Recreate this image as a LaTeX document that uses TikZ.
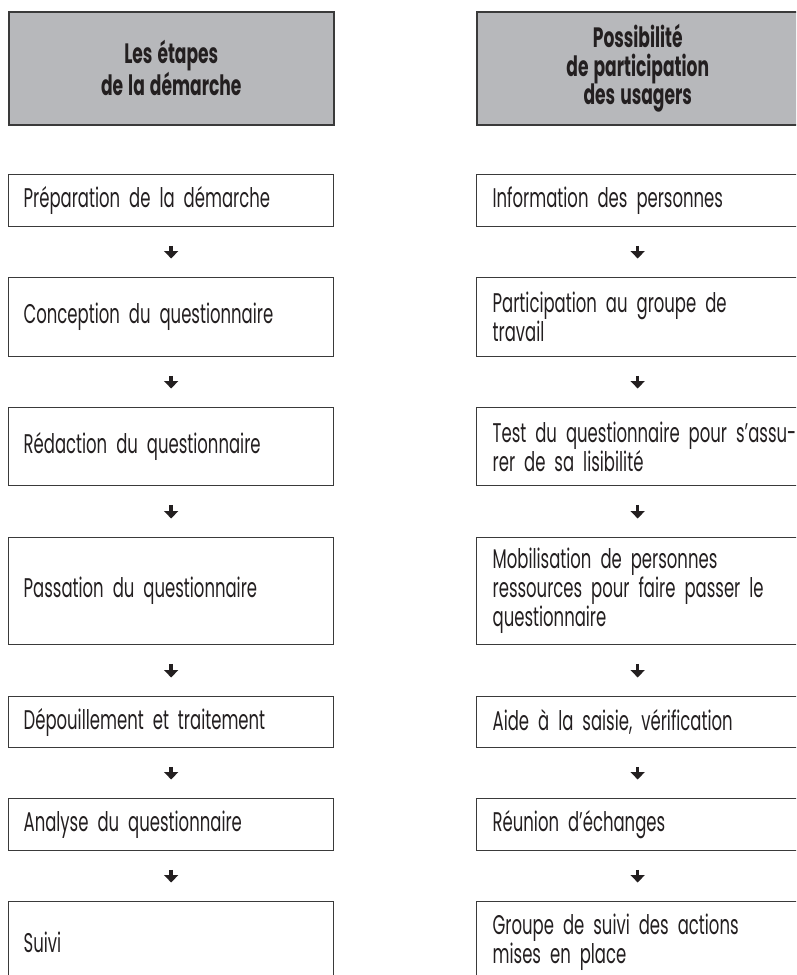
\documentclass[tikz,border=0pt]{standalone}
\usepackage{fontspec}
\setmainfont{Poppins}[FakeStretch=0.61, WordSpace=0.9, BoldFeatures={WordSpace=1.4}]
\usetikzlibrary{arrows.meta}
\definecolor{hdrgray}{HTML}{B7B8BB}
\definecolor{linegray}{HTML}{3A3A3A}
\definecolor{txt}{HTML}{231F20}
\begin{document}
\begin{tikzpicture}[x=1pt,y=-1pt,
  box/.style={draw=linegray, line width=1.3pt, rectangle, anchor=north west, inner xsep=15pt, inner ysep=0pt, align=left, text=txt, font=\fontsize{27}{29}\selectfont},
  lbox/.style={box, text width=295pt},
  rbox/.style={box, text width=290pt, inner xsep=16pt},
  hdr/.style={draw=linegray, line width=1.5pt, fill=hdrgray, anchor=north west, align=center, text=txt, font=\bfseries\fontsize{28}{28.5}\selectfont, inner sep=0pt, minimum height=113pt},
  down/.style={line width=3.6pt, -{Triangle[width=14pt,length=7.5pt]}, shorten <=18.5pt, shorten >=18.5pt, draw=txt}
]
\useasboundingbox (0,0) rectangle (796,975);
\begin{scope}
\clip (0,0) rectangle (796,975);
% headers
\node[hdr, minimum width=325pt] (hl) at (8,11) {Les étapes\\de la démarche};
\node[hdr, minimum width=322pt] (hr) at (476,11) {Possibilité\\de participation\\des usagers};
% left column
\node[lbox, minimum height=52pt]  (l1) at (8,174) {Préparation de la démarche};
\node[lbox, minimum height=79pt]  (l2) at (8,277) {Conception du questionnaire};
\node[lbox, minimum height=78pt]  (l3) at (8,407) {Rédaction du questionnaire};
\node[lbox, minimum height=107pt] (l4) at (8,537) {Passation du questionnaire};
\node[lbox, minimum height=51pt]  (l5) at (8,696) {Dépouillement et traitement};
\node[lbox, minimum height=52pt]  (l6) at (8,798) {Analyse du questionnaire};
\node[lbox, minimum height=82pt]  (l7) at (8,901) {Suivi};
% right column
\node[rbox, minimum height=52pt]  (r1) at (476,174) {Information des personnes};
\node[rbox, minimum height=79pt]  (r2) at (476,277) {Participation au groupe de\\travail};
\node[rbox, minimum height=78pt]  (r3) at (476,407) {\mbox{Test du questionnaire pour s’assu-}\\rer de sa lisibilité};
\node[rbox, minimum height=107pt] (r4) at (476,537) {Mobilisation de personnes\\\mbox{ressources pour faire passer le}\\questionnaire};
\node[rbox, minimum height=51pt]  (r5) at (476,696) {Aide à la saisie, vérification};
\node[rbox, minimum height=52pt]  (r6) at (476,798) {Réunion d’échanges};
\node[rbox, minimum height=82pt]  (r7) at (476,901) {Groupe de suivi des actions\\mises en place};
% arrows
\foreach \a/\b in {l1/l2,l2/l3,l3/l4,l4/l5,l5/l6,l6/l7,r1/r2,r2/r3,r3/r4,r4/r5,r5/r6,r6/r7}
  \draw[down] (\a.south) -- (\b.north);
\end{scope}
\end{tikzpicture}
\end{document}
